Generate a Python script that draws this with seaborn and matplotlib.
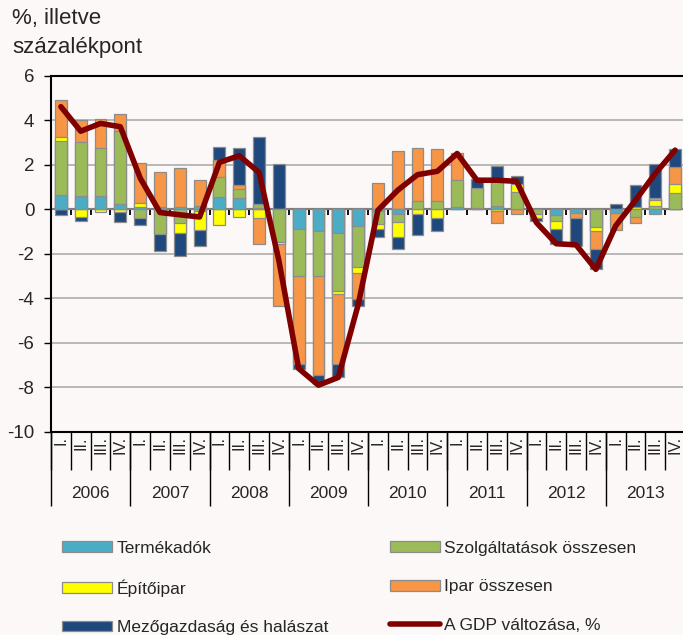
import numpy as np
import pandas as pd
import matplotlib
matplotlib.use('Agg')
import matplotlib.pyplot as plt
import seaborn as sns
from matplotlib.patches import Patch
from matplotlib.lines import Line2D

# ---------------- data ----------------
years = ['2006', '2007', '2008', '2009', '2010', '2011', '2012', '2013']
quarters = ['I.', 'II.', 'III.', 'IV.']

termekadok = [0.64, 0.57, 0.60, 0.23, 0.12, 0.09, 0.09, 0.15,
              0.56, 0.50, 0.05, 0.00, -0.89, -0.96, -1.07, -0.77,
              -0.07, -0.22, 0.00, 0.00, 0.11, 0.07, 0.15, 0.00,
              0.00, -0.25, -0.15, 0.00, -0.15, 0.00, -0.20, 0.00]
szolgaltatasok = [2.43, 2.46, 2.14, 3.29, -0.40, -1.11, -0.62, -0.10,
                  0.90, 0.40, 0.18, -1.49, -2.09, -2.05, -2.58, -1.84,
                  -0.60, -0.37, 0.35, 0.35, 1.20, 0.88, 1.15, 0.75,
                  -0.20, -0.27, 0.00, -0.80, 0.00, -0.37, 0.16, 0.71]
epitoipar = [0.15, -0.37, -0.14, -0.13, 0.17, 0.00, -0.45, -0.83,
             -0.70, -0.34, -0.40, -0.07, 0.00, 0.00, -0.15, -0.25,
             -0.22, -0.64, -0.22, -0.40, 0.00, 0.00, -0.10, 0.38,
             -0.20, -0.38, 0.00, -0.16, 0.00, 0.10, 0.24, 0.42]
ipar = [1.68, 0.98, 1.33, 0.75, 1.80, 1.60, 1.76, 1.17,
        0.74, 0.18, -1.16, -2.80, -3.96, -4.43, -3.17, -1.17,
        1.17, 2.62, 2.38, 2.35, 1.19, 0.00, -0.50, -0.22,
        0.00, 0.00, -0.25, -0.82, -0.78, -0.27, 0.12, 0.75]
mezogazdasag = [-0.26, -0.15, 0.00, -0.46, -0.30, -0.75, -1.02, -0.71,
                0.57, 1.65, 2.99, 2.03, -0.23, -0.40, -0.57, -0.33,
                -0.34, -0.55, -0.94, -0.56, 0.00, 0.40, 0.65, 0.37,
                -0.15, -0.65, -1.24, -0.90, 0.22, 1.00, 1.50, 0.82]
gdp = [4.6, 3.5, 3.85, 3.7, 1.4, -0.15, -0.25, -0.35,
       2.1, 2.4, 1.65, -2.3, -7.15, -7.9, -7.55, -4.3,
       -0.05, 0.85, 1.55, 1.7, 2.5, 1.3, 1.3, 1.25,
       -0.6, -1.55, -1.6, -2.7, -0.75, 0.4, 1.6, 2.65]

series_names = ['Termékadók', 'Szolgáltatások összesen', 'Építőipar',
                'Ipar összesen', 'Mezőgazdaság és halászat']
series_colors = ['#4BACC6', '#9BBB59', '#FFFF00', '#F79646', '#1F497D']
gdp_name = 'A GDP változása, %'
gdp_color = '#800000'

# ---------------- style ----------------
sns.set_theme(style='white')
plt.rcParams['font.family'] = ['Liberation Sans', 'DejaVu Sans']
plt.rcParams['axes.unicode_minus'] = False
bg = '#FBF8F7'
edge = '#8C8C8C'

fig = plt.figure(figsize=(6.83, 6.35), dpi=100, facecolor=bg)
ax = fig.add_axes([51 / 683, 1 - 432 / 635, 634 / 683, 356.5 / 635])
ax.set_facecolor(bg)

labels = [f'{y} {q}' for y in years for q in quarters]
comp = np.array([termekadok, szolgaltatasok, epitoipar, ipar, mezogazdasag])
pos_cum = np.where(comp > 0, comp, 0).cumsum(axis=0)
neg_cum = np.where(comp < 0, comp, 0).cumsum(axis=0)

# stacked bars: draw cumulative totals from the outermost layer inward
for k in reversed(range(len(series_names))):
    for cum, mask in ((pos_cum[k], comp[k] > 0), (neg_cum[k], comp[k] < 0)):
        df = pd.DataFrame({'q': labels, 'v': np.where(mask, cum, np.nan)})
        sns.barplot(data=df, x='q', y='v', order=labels, color=series_colors[k],
                    saturation=1, width=0.6, edgecolor=edge, linewidth=0.9,
                    errorbar=None, ax=ax, zorder=2)

sns.lineplot(x=np.arange(len(gdp)), y=gdp, color=gdp_color, linewidth=4,
             ax=ax, zorder=5, solid_joinstyle='round', solid_capstyle='round')

ax.set_xlabel('')
ax.set_ylabel('')
ax.set_xlim(-0.5, len(labels) - 0.5)
ax.set_ylim(-10, 6)
ax.set_yticks(range(-10, 7, 2))
ax.yaxis.grid(True, color='#A6A6A6', linewidth=1.1)
ax.set_axisbelow(True)
ax.tick_params(axis='y', left=True, length=5, width=1, color='black',
               direction='out', labelsize=13.5, pad=7)

for s in ['left', 'top', 'bottom']:
    ax.spines[s].set_color('black')
    ax.spines[s].set_linewidth(1.5)
ax.spines['right'].set_visible(False)

# quarter labels
ax.set_xticks(range(len(labels)), labels=quarters * len(years), rotation=90)
ax.set_xticks(np.arange(-0.5, len(labels), 1), minor=True)
ax.tick_params(axis='x', which='major', length=0, labelsize=11.5, pad=3)
ax.tick_params(axis='x', which='minor', bottom=True, length=27, width=1,
               color='black', direction='out')
for t in ax.get_xticklabels():
    t.set_va('top')

# year labels and separators
sec = ax.secondary_xaxis('bottom')
sec.set_xticks(np.arange(-0.5, len(labels), 4), labels=[''] * 9)
sec.set_xticks(np.arange(1.5, len(labels), 4), labels=years, minor=True)
sec.tick_params(which='major', length=53, width=1, color='black', direction='out')
sec.tick_params(which='minor', length=0, pad=39, labelsize=12.5)
sec.spines['bottom'].set_visible(False)
sec.spines['top'].set_visible(False)

# zero line with ticks
zax = ax.secondary_xaxis(0, transform=ax.transData)
zax.set_xticks(np.arange(-0.5, len(labels), 1), labels=[])
zax.tick_params(length=4, width=1.3, color='black', direction='out')
zax.spines['bottom'].set_color('black')
zax.spines['bottom'].set_linewidth(1.5)
zax.spines['top'].set_color('black')
zax.spines['top'].set_linewidth(0.5)

# axis title
fig.text(12 / 683, 1 - 8 / 635, '%, illetve\nszázalékpont', ha='left', va='top',
         fontsize=16, linespacing=1.5)

# legend
handles = []
for name, col in zip(series_names, series_colors):
    handles.append(Patch(facecolor=col, edgecolor=edge, linewidth=0.9, label=name))
handles.append(Line2D([], [], color=gdp_color, linewidth=4, label=gdp_name))
order = [0, 2, 4, 1, 3, 5]
handles = [handles[i] for i in order]
fig.legend(handles=handles, ncol=2, loc='upper left',
           bbox_to_anchor=(62 / 683, 1 - 541 / 635), frameon=False, fontsize=12.5,
           handlelength=2.9, handleheight=0.58, handletextpad=0.25,
           columnspacing=3.55, labelspacing=1.34, borderpad=0, borderaxespad=0)

fig.savefig('out.png', dpi=100, facecolor=bg)
